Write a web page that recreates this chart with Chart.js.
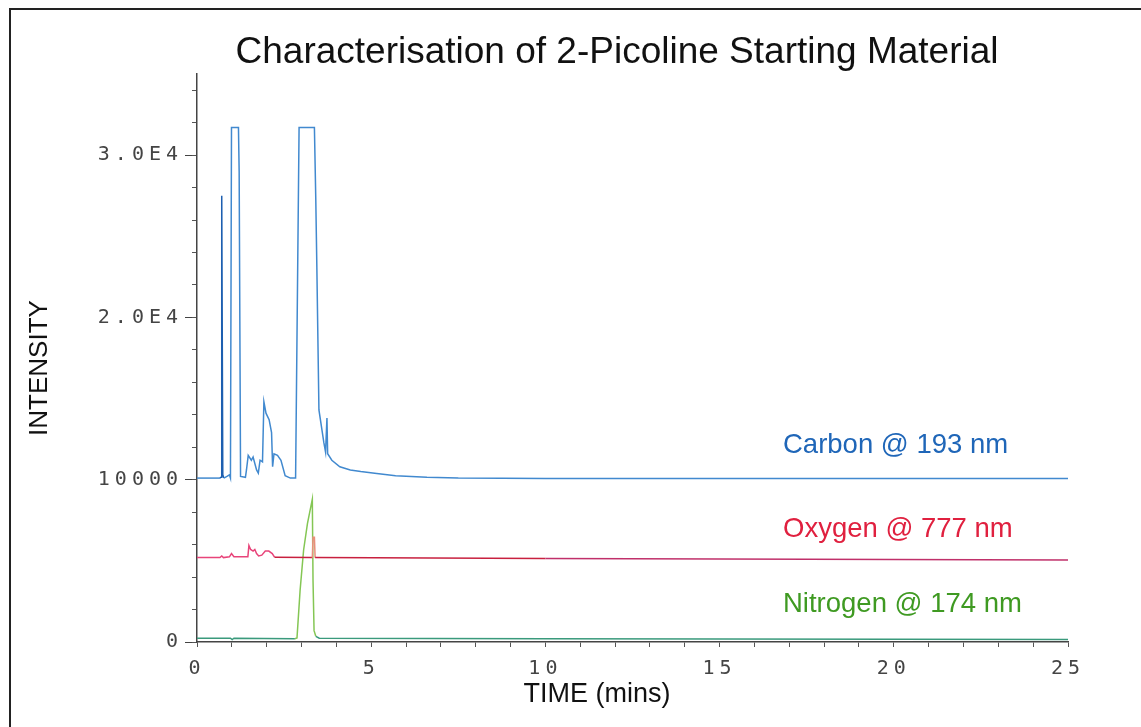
<!DOCTYPE html>
<html>
<head>
<meta charset="utf-8">
<title>Characterisation of 2-Picoline Starting Material</title>
<script src="https://cdn.jsdelivr.net/npm/chart.js@4/dist/chart.umd.min.js"></script>
<style>
    html, body { margin: 0; padding: 0; background: #fff; overflow: hidden; }
    #frame { position: absolute; left: 9px; top: 8px; width: 1200px; height: 800px; border: 2px solid #222; }
    #wrap { position: absolute; left: 0; top: 0; width: 1141px; height: 727px; }
</style>
</head>
<body>
<div id="frame"></div>
<div id="wrap"><canvas id="chromChart" width="1141" height="727"></canvas></div>
<script>
// 标题和文字
const chartTitle = 'Characterisation of 2-Picoline Starting Material';
const xAxisTitle = 'TIME (mins)';
const yAxisTitle = 'INTENSITY';
const seriesNames = ['Carbon @ 193 nm', 'Oxygen @ 777 nm', 'Nitrogen @ 174 nm'];

// 刻度标签
const xTickValues = [0, 5, 10, 15, 20, 25];
const xTickLabels = ['0', '5', '10', '15', '20', '25'];
const yTickValues = [0, 10000, 20000, 30000];
const yTickLabels = ['0', '10000', '2.0E4', '3.0E4'];
const yMinorTickValues = [0, 2000, 4000, 6000, 8000, 10000, 12000, 14000, 16000, 18000,
    20000, 22000, 24000, 26000, 28000, 30000, 32000, 34000];

// 碳 @ 193 nm
const carbonTime = [0, 0.66, 0.69, 0.71, 0.74, 0.77, 0.86, 0.93, 0.96, 0.99, 1.19, 1.21, 1.25,
    1.39, 1.42, 1.47, 1.56, 1.61, 1.71, 1.76, 1.81, 1.88, 1.92, 1.98, 2.07, 2.14, 2.17, 2.21, 2.31,
    2.41, 2.53, 2.68, 2.83, 2.93, 3.37, 3.41, 3.44, 3.5, 3.57, 3.64, 3.69, 3.73, 3.75, 3.87,
    4.1, 4.4, 4.7, 5.1, 5.7, 6.6, 7.5, 10, 15, 20, 25];
const carbonIntensity = [10100, 10100, 10150, 27500, 10300, 10100, 10200, 10300, 10100, 31700, 31700, 29000, 10200,
    10150, 10600, 11500, 11200, 11400, 10600, 10400, 11200, 11100, 14800, 14100, 13700, 12900, 10800, 11600, 11500,
    11200, 10250, 10100, 10100, 31700, 31700, 27200, 23100, 14300, 13300, 12300, 11700, 13800, 11600, 11200,
    10800, 10600, 10500, 10400, 10250, 10150, 10100, 10080, 10080, 10080, 10080];

// 氧 @ 777 nm
const oxygenTime = [0, 0.66, 0.71, 0.76, 0.93, 0.99, 1.06, 1.46, 1.49, 1.54, 1.61, 1.66, 1.71, 1.77,
    1.86, 1.96, 2.06, 2.16, 2.23, 3.31, 3.33, 3.37, 3.39, 10, 25];
const oxygenIntensity = [5200, 5200, 5300, 5200, 5250, 5450, 5250, 5250, 5950, 5700, 5600, 5700, 5450, 5300,
    5350, 5600, 5600, 5450, 5220, 5200, 6450, 6450, 5200, 5150, 5050];

// 氮 @ 174 nm
const nitrogenTime = [0, 0.96, 1.01, 1.06, 2.81, 2.87, 2.96, 3.06, 3.17, 3.31, 3.33, 3.36, 3.41, 3.51, 10, 25];
const nitrogenIntensity = [230, 230, 150, 230, 200, 250, 3200, 5670, 7300, 8800, 3800, 700, 350, 230, 200, 150];

// 转换为点
function toPoints(times, values) {
    return times.map((t, i) => ({ x: t, y: values[i] }));
}

// 刻度标签查找
function lookupLabel(values, labels, v) {
    const idx = values.indexOf(v);
    return idx >= 0 ? labels[idx] : '';
}

const tickFont = { family: 'DejaVu Sans Mono', size: 20 };

// 绘制标题、坐标轴标题和系列名称
const textPlugin = {
    id: 'textPlugin',
    beforeDraw(chart) {
        // 绘图仪字体的字距
        chart.ctx.letterSpacing = '5px';
    },
    afterDraw(chart) {
        const ctx = chart.ctx;
        ctx.save();
        ctx.letterSpacing = '0px';
        ctx.fillStyle = '#111';
        ctx.textAlign = 'center';
        ctx.textBaseline = 'alphabetic';
        ctx.font = '37px "Liberation Sans", Arial, sans-serif';
        ctx.fillText(chartTitle, 617, 63);

        ctx.font = '27px "Liberation Sans", Arial, sans-serif';
        ctx.fillText(xAxisTitle, 597, 702);

        ctx.save();
        ctx.translate(47, 368);
        ctx.rotate(-Math.PI / 2);
        ctx.font = '26px "Liberation Sans", Arial, sans-serif';
        ctx.fillText(yAxisTitle, 0, 0);
        ctx.restore();

        ctx.textAlign = 'left';
        ctx.font = '27.5px "Liberation Sans", Arial, sans-serif';
        const colors = ['#1f66b8', '#e0203f', '#3f9a22'];
        const baselines = [453, 537, 612];
        seriesNames.forEach((name, i) => {
            ctx.fillStyle = colors[i];
            ctx.fillText(name, 783, baselines[i]);
        });
        ctx.restore();
        ctx.letterSpacing = '0px';
    }
};

const ctx = document.getElementById('chromChart').getContext('2d');
const chromChart = new Chart(ctx, {
    type: 'line',
    data: {
        datasets: [
            {
                label: seriesNames[0],
                data: toPoints(carbonTime, carbonIntensity),
                borderColor: '#4189cf',
                borderWidth: 1.5,
                segment: {
                    borderColor: c => (c.p0.parsed.x >= 0.66 && c.p1.parsed.x <= 0.77) ? '#1d5fb0' : '#4189cf'
                }
            },
            {
                label: seriesNames[1],
                data: toPoints(oxygenTime, oxygenIntensity),
                borderColor: '#c8203f',
                borderWidth: 1.5,
                segment: {
                    borderColor: c => {
                        if (c.p1.parsed.x <= 2.23) return '#e8447a';
                        if (c.p0.parsed.x >= 3.31 && c.p1.parsed.x <= 3.39) return '#e8907c';
                        if (c.p0.parsed.x >= 10) return '#c0306a';
                        return '#c8203f';
                    }
                }
            },
            {
                label: seriesNames[2],
                data: toPoints(nitrogenTime, nitrogenIntensity),
                borderColor: '#3a9a7c',
                borderWidth: 1.5,
                segment: {
                    borderColor: c => (c.p0.parsed.x >= 2.81 && c.p1.parsed.x <= 3.41) ? '#84c654' : '#3a9a7c'
                }
            }
        ]
    },
    options: {
        responsive: false,
        animation: false,
        parsing: false,
        elements: {
            point: { radius: 0 },
            line: { tension: 0, fill: false }
        },
        layout: {
            padding: { left: 0, right: 73, top: 74, bottom: 0 }
        },
        plugins: {
            legend: { display: false },
            title: { display: false },
            tooltip: { enabled: false }
        },
        scales: {
            x: {
                type: 'linear',
                min: 0,
                max: 25,
                ticks: {
                    stepSize: 1,
                    autoSkip: false,
                    maxRotation: 0,
                    padding: 10,
                    color: '#444',
                    font: tickFont,
                    callback: v => lookupLabel(xTickValues, xTickLabels, v)
                },
                grid: { drawOnChartArea: false, tickLength: 5, color: '#555' },
                border: { color: '#444', width: 1.5 },
                afterFit: s => { s.height = 85; }
            },
            y: {
                type: 'linear',
                position: 'left',
                weight: 1,
                min: 0,
                max: 35000,
                afterBuildTicks: s => { s.ticks = yTickValues.map(v => ({ value: v })); },
                ticks: {
                    autoSkip: false,
                    padding: 2,
                    color: '#444',
                    font: tickFont,
                    callback: v => lookupLabel(yTickValues, yTickLabels, v)
                },
                grid: { drawOnChartArea: false, tickLength: 12, color: '#444' },
                border: { color: '#444', width: 1.5 },
                afterFit: s => { s.width = 197; }
            },
            yMinor: {
                type: 'linear',
                position: 'left',
                weight: 0,
                min: 0,
                max: 35000,
                afterBuildTicks: s => { s.ticks = yMinorTickValues.map(v => ({ value: v })); },
                ticks: { autoSkip: false, padding: 0, callback: () => '' },
                grid: { drawOnChartArea: false, tickLength: 5, color: '#555' },
                border: { display: false },
                afterFit: s => { s.width = 0; }
            }
        }
    },
    plugins: [textPlugin]
});
</script>
</body>
</html>
